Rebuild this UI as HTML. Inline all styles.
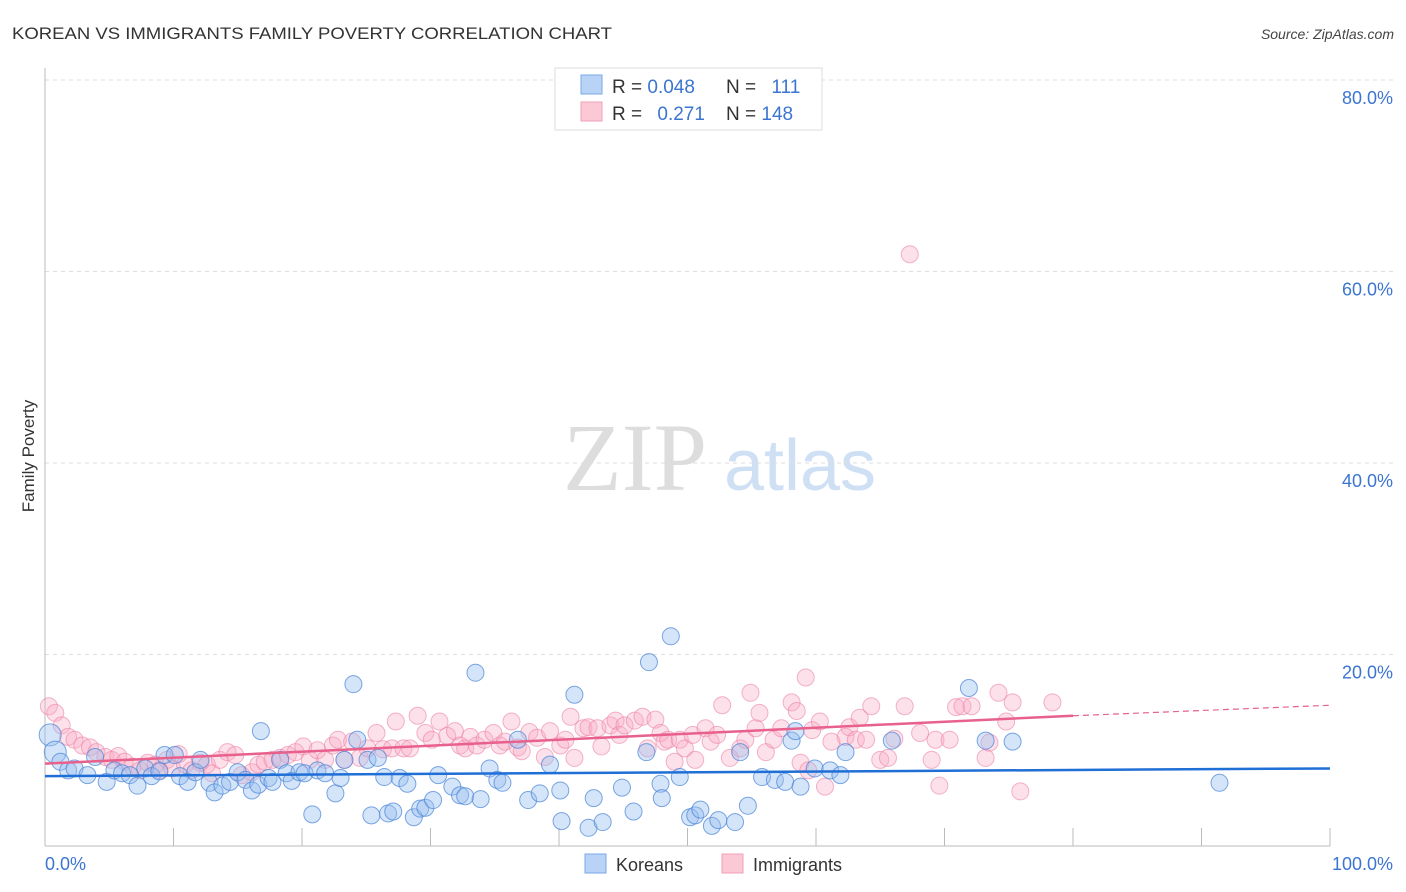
<!DOCTYPE html>
<html><head><meta charset="utf-8"><style>
html,body{margin:0;padding:0;background:#fff;}
svg{display:block;font-family:"Liberation Sans",sans-serif;}
</style></head><body>
<svg id="chart" width="1406" height="892" viewBox="0 0 1406 892" xmlns="http://www.w3.org/2000/svg">
<text x="12" y="39" font-size="17" fill="#333" textLength="600" lengthAdjust="spacingAndGlyphs">KOREAN VS IMMIGRANTS FAMILY POVERTY CORRELATION CHART</text>
<text x="1394" y="39" font-size="14" font-style="italic" fill="#444" text-anchor="end">Source: ZipAtlas.com</text>
<g>
<text x="635" y="490" font-family="Liberation Serif, serif" font-size="96" fill="#ddd" text-anchor="middle">ZIP</text>
<text x="800" y="490" font-size="72" fill="#cfe0f5" text-anchor="middle">atlas</text>
</g>
<text transform="translate(34,456) rotate(-90)" font-size="17" fill="#333" text-anchor="middle">Family Poverty</text>
<g id="grid"></g>
<g id="axes"></g>
<g id="marks"></g>
<g id="lines"></g>
<g>
<rect x="555" y="68" width="267" height="62" fill="#fff" stroke="#ddd"/>
<rect x="581" y="75" width="21" height="19" fill="#b8d3f5" stroke="#7aaae8"/>
<rect x="581" y="102" width="21" height="19" fill="#fbc8d6" stroke="#f0a0b8"/>
<text x="612" y="93" font-size="19" fill="#333">R = <tspan fill="#3c75d0">0.048</tspan></text>
<text x="726" y="93" font-size="19" fill="#333">N = <tspan fill="#3c75d0" dx="10">111</tspan></text>
<text x="612" y="120" font-size="19" fill="#333">R = <tspan fill="#3c75d0" dx="10">0.271</tspan></text>
<text x="726" y="120" font-size="19" fill="#333">N = <tspan fill="#3c75d0">148</tspan></text>
</g>
<g>
<rect x="585" y="854" width="21" height="19" fill="#b8d3f5" stroke="#7aaae8"/>
<text x="616" y="871" font-size="18" fill="#333">Koreans</text>
<rect x="722" y="854" width="21" height="19" fill="#fbc8d6" stroke="#f0a0b8"/>
<text x="753" y="871" font-size="18" fill="#333">Immigrants</text>
</g>
</svg>
<script>
const yTicks=[20,40,60,80];
const yTickLabels=["20.0%","40.0%","60.0%","80.0%"];
const xTicks=[0,10,20,30,40,50,60,70,80,90,100];
const koreanX=[0.4,0.8,1.2,1.8,2.3,3.3,3.9,4.8,5.4,6.0,6.6,7.2,7.8,8.3,8.9,9.3,10.1,10.5,11.1,11.7,12.1,12.8,13.2,13.8,14.4,15.0,15.6,16.1,16.6,16.8,17.4,17.7,18.3,18.8,19.2,19.8,20.2,20.8,21.2,21.8,22.6,23.0,23.3,24.0,24.3,25.1,25.4,25.9,26.4,26.7,27.1,27.6,28.2,28.7,29.2,29.6,30.2,30.6,31.7,32.3,32.7,33.5,33.9,34.6,35.2,35.6,36.8,37.6,38.5,39.3,40.1,40.2,41.2,42.3,42.7,43.4,44.9,45.8,46.8,47.0,47.9,48.0,48.7,49.4,50.2,50.6,51.0,51.9,52.4,53.7,54.1,54.7,55.8,56.8,57.6,58.1,58.4,58.8,59.9,61.1,61.9,62.3,65.9,71.9,73.2,75.3,91.4];
const koreanY=[11.6,9.8,8.8,7.9,8.1,7.4,9.3,6.7,7.9,7.6,7.4,6.3,8.1,7.3,7.8,9.5,9.5,7.3,6.7,7.7,9.0,6.6,5.6,6.3,6.7,7.7,6.9,5.8,6.4,12.0,7.1,6.7,9.0,7.6,6.8,7.7,7.6,3.3,7.9,7.6,5.5,7.1,9.0,16.9,11.1,9.0,3.2,9.2,7.2,3.4,3.6,7.1,6.5,3.0,3.9,4.0,4.8,7.4,6.2,5.3,5.2,18.1,4.9,8.1,6.9,6.6,11.1,4.8,5.5,8.5,5.8,2.6,15.8,1.9,5.0,2.5,6.1,3.6,9.8,19.2,6.5,5.0,21.9,7.2,3.0,3.2,3.8,2.1,2.7,2.5,9.8,4.2,7.2,6.9,6.7,11.0,12.0,6.2,8.1,7.9,7.4,9.8,11.0,16.5,11.0,10.9,6.6];
const immX=[0.3,0.8,1.3,1.8,2.3,2.9,3.5,4.0,4.7,5.2,5.7,6.2,6.8,7.4,8.0,8.6,8.9,9.5,9.9,10.4,10.9,11.4,12.1,12.6,13.0,13.6,14.2,14.8,15.3,16.1,16.6,17.1,17.7,18.3,18.9,19.5,20.1,20.6,21.2,21.8,22.4,22.8,23.3,23.9,24.5,25.1,25.8,26.3,27.0,27.3,27.9,28.4,29.0,29.6,30.1,30.7,31.3,31.9,32.3,32.7,33.1,33.6,34.2,34.9,35.4,35.8,36.3,36.8,37.1,37.7,38.3,38.9,39.3,40.1,40.5,40.9,41.2,41.9,42.3,43.0,43.3,44.0,44.4,44.7,45.1,45.9,46.5,46.9,47.5,47.9,48.2,48.5,49.0,49.4,49.8,50.4,50.6,51.4,51.8,52.3,52.7,53.3,54.1,54.5,54.9,55.3,55.6,56.1,56.7,57.3,58.1,58.5,58.8,59.2,59.4,59.7,60.3,60.7,61.2,62.3,62.6,63.1,63.4,63.9,64.3,65.0,65.6,66.1,66.9,67.3,68.1,69.0,69.3,69.6,70.4,70.9,71.4,72.1,73.2,73.5,74.2,74.8,75.3,75.9,78.4];
const immY=[14.6,13.9,12.6,11.4,11.1,10.5,10.3,9.8,9.3,9.0,9.4,8.8,8.3,7.9,8.7,8.5,7.9,9.0,8.1,9.6,8.5,7.9,8.7,8.5,7.6,9.0,9.8,9.5,7.4,7.7,8.5,8.8,9.0,9.2,9.5,9.8,10.4,9.0,10.0,9.0,10.5,11.1,9.0,10.9,9.2,10.2,11.8,10.1,10.2,13.0,10.2,10.2,13.6,11.8,11.1,13.0,11.5,12.0,10.5,10.2,11.4,10.5,11.1,11.8,10.5,10.9,13.0,10.3,9.9,11.9,11.3,9.3,12.0,10.5,11.1,13.5,9.2,12.3,12.4,12.3,10.4,12.6,13.1,11.6,12.6,13.1,13.5,10.2,13.2,11.8,10.9,11.1,8.8,11.1,10.2,11.6,9.0,12.3,10.9,11.6,14.7,9.2,10.2,11.1,16.0,12.3,13.9,9.8,11.1,12.3,15.0,14.1,8.7,17.6,7.9,12.1,13.0,6.2,10.9,11.4,12.4,11.1,13.4,11.1,14.6,9.0,9.2,11.2,14.6,61.8,11.8,9.0,11.1,6.3,11.1,14.5,14.6,14.6,9.2,10.8,16.0,13.0,15.0,5.7,15.0];
const koreanTrend=[7.3,8.1];
const immTrend=[8.6,13.6,14.7];
const immTrendEndX=80;

const NS="http://www.w3.org/2000/svg";
const X0=45,X1=1330,Y0=846,PXPER=9.575;
function sx(v){return X0+(X1-X0)*v/100;}
function sy(v){return Y0-v*PXPER;}
function mk(tag,attrs,parent){const e=document.createElementNS(NS,tag);for(const k in attrs)e.setAttribute(k,attrs[k]);parent.appendChild(e);return e;}
const grid=document.getElementById('grid'),axes=document.getElementById('axes'),marks=document.getElementById('marks'),lines=document.getElementById('lines');
yTicks.forEach((t,i)=>{
  const l=mk('line',{x1:X0,x2:1393,y1:sy(t),y2:sy(t),stroke:'#ddd','stroke-dasharray':'4,4'},grid);
  
  
  const tx=mk('text',{x:1393,y:sy(t)+24,'font-size':18,fill:'#3c75d0','text-anchor':'end'},axes);
  tx.textContent=yTickLabels[i];
  
  
});
const ax=mk('line',{x1:X0,x2:X1,y1:Y0,y2:Y0,stroke:'#bbb'},axes);


const ay=mk('line',{x1:X0,x2:X0,y1:68,y2:Y0,stroke:'#bbb'},axes);


xTicks.forEach(t=>{
  const l=mk('line',{x1:sx(t),x2:sx(t),y1:828,y2:Y0,stroke:'#bbb'},axes);
  
  
});
const xl0=mk('text',{x:45,y:870,'font-size':18,fill:'#3c75d0'},axes);xl0.textContent='0.0%';


const xl1=mk('text',{x:1393,y:870,'font-size':18,fill:'#3c75d0','text-anchor':'end'},axes);xl1.textContent='100.0%';


immX.forEach((v,i)=>{
  const c=mk('circle',{cx:sx(v),cy:sy(immY[i]),r:8.5,fill:'rgba(248,170,195,0.35)',stroke:'rgba(235,130,165,0.6)','stroke-width':1},marks);
  
  
});
koreanX.forEach((v,i)=>{
  const c=mk('circle',{cx:sx(v),cy:sy(koreanY[i]),r:i<2?11:8.5,fill:'rgba(150,190,240,0.4)',stroke:'rgba(70,130,215,0.7)','stroke-width':1},marks);
  
  
});
const bl=mk('line',{x1:sx(0),x2:sx(100),y1:sy(koreanTrend[0]),y2:sy(koreanTrend[1]),stroke:'#1f6fd6','stroke-width':2.5},lines);


const pl=mk('line',{x1:sx(0),x2:sx(immTrendEndX),y1:sy(immTrend[0]),y2:sy(immTrend[1]),stroke:'#e8608c','stroke-width':2.5},lines);


const pd=mk('line',{x1:sx(immTrendEndX),x2:sx(100),y1:sy(immTrend[1]),y2:sy(immTrend[2]),stroke:'#e8608c','stroke-width':1.2,'stroke-dasharray':'6,4'},lines);


</script>
</body></html>
